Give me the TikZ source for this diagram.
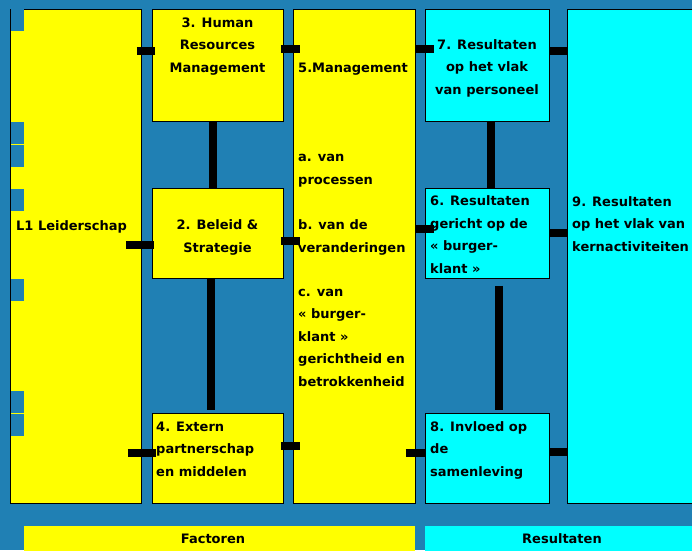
\documentclass[tikz,border=0pt]{standalone}
\usepackage{fontspec}
\setmainfont{DejaVu Sans}
\definecolor{modelblue}{RGB}{32,128,180}
\definecolor{factoryellow}{RGB}{255,255,0}
\definecolor{resultcyan}{RGB}{0,255,255}
\tikzset{
  area/.style={draw=black, line width=0.8pt, inner sep=0pt, anchor=north west},
  factorbox/.style={area, fill=factoryellow},
  resultbox/.style={area, fill=resultcyan},
  txt/.style={font=\fontsize{13}{22.5}\selectfont\bfseries, inner sep=0pt, align=left, anchor=base west},
  ctxt/.style={txt, align=center, anchor=base},
  bar/.style={line width=8pt, black},
}
\begin{document}
\begin{tikzpicture}[x=1pt, y=-1pt]
    \fill[modelblue] (0,0) rectangle (692,550);
    \useasboundingbox (0,0) rectangle (692,550);
    % factoren
    \node[factorbox, minimum width=131, minimum height=494] (l1) at (10,9) {};
    \node[factorbox, minimum width=131, minimum height=112] (hr) at (152,9) {};
    \node[factorbox, minimum width=131, minimum height=90] (bs) at (152,188) {};
    \node[factorbox, minimum width=131, minimum height=90] (ep) at (152,413) {};
    \node[factorbox, minimum width=122, minimum height=494] (mg) at (293,9) {};
    % resultaten
    \node[resultbox, minimum width=124, minimum height=112] (rp) at (425,9) {};
    \node[resultbox, minimum width=124, minimum height=90] (rb) at (425,188) {};
    \node[resultbox, minimum width=124, minimum height=90] (is) at (425,413) {};
    \node[resultbox, minimum width=140, minimum height=494] (rk) at (567,9) {};
    \foreach \y in {9,122,145,189,279,391,414}
        \fill[modelblue] (11,\y) rectangle (24,\y+22);
    % legende
    \node[area, draw=none, fill=factoryellow, minimum width=391, minimum height=30] (factoren) at (24,526) {};
    \node[area, draw=none, fill=resultcyan, minimum width=280, minimum height=30] (resultaten) at (425,526) {};
    \node[ctxt] (factorentxt) at (213,543) {Factoren};
    \node[ctxt] (resultatentxt) at (562,543) {Resultaten};
    % teksten (anker op de laatste regel)
    \node[txt] (l1txt) at (16,230) {L1 Leiderschap};
    \node[ctxt] (hrtxt) at (217.5,72) {3. Human\\Resources\\Management};
    \node[ctxt] (bstxt) at (217.5,252) {2. Beleid \&\\Strategie};
    \node[txt] (eptxt) at (156,476) {4. Extern\\partnerschap\\en middelen};
    \node[txt] (mgtxt) at (298,72) {5.Management};
    \node[txt] (mgatxt) at (298,184) {a. van\\processen};
    \node[txt] (mgbtxt) at (298,252) {b. van de\\veranderingen};
    \node[txt] (mgctxt) at (298,386) {c. van\\« burger-\\klant »\\gerichtheid en\\betrokkenheid};
    \node[ctxt] (rptxt) at (487,94) {7. Resultaten\\op het vlak\\van personeel};
    \node[txt] (rbtxt) at (430,273) {6. Resultaten\\gericht op de\\« burger-\\klant »};
    \node[txt] (istxt) at (430,476) {8. Invloed op\\de\\samenleving};
    \node[txt] (rktxt) at (572,251) {9. Resultaten\\op het vlak van\\kernactiviteiten};
    % verbindingen
    \draw[bar, shorten <=-5pt, shorten >=-3pt] (l1.east |- 0,51) -- (hr.west |- 0,51);
    \draw[bar, shorten <=-16pt, shorten >=-2pt] (l1.east |- 0,245) -- (bs.west |- 0,245);
    \draw[bar, shorten <=-14pt, shorten >=-4pt] (l1.east |- 0,453) -- (ep.west |- 0,453);
    \draw[bar, shorten <=-3pt, shorten >=-7pt] (hr.east |- 0,49) -- (mg.west |- 0,49);
    \draw[bar, shorten <=-3pt, shorten >=-7pt] (bs.east |- 0,241) -- (mg.west |- 0,241);
    \draw[bar, shorten <=-3pt, shorten >=-7pt] (ep.east |- 0,446) -- (mg.west |- 0,446);
    \draw[bar, shorten >=-9pt] (mg.east |- 0,49) -- (rp.west |- 0,49);
    \draw[bar, shorten >=-9pt] (mg.east |- 0,229) -- (rb.west |- 0,229);
    \draw[bar, shorten <=-10pt, shorten >=-1pt] (mg.east |- 0,453) -- (is.west |- 0,453);
    \draw[bar] (rp.east |- 0,51) -- (rk.west |- 0,51);
    \draw[bar] (rb.east |- 0,233) -- (rk.west |- 0,233);
    \draw[bar] (is.east |- 0,452) -- (rk.west |- 0,452);
    \draw[bar] (hr.south -| 213,0) -- (bs.north -| 213,0);
    \draw[bar, shorten >=3pt] (bs.south -| 211,0) -- (ep.north -| 211,0);
    \draw[bar] (rp.south -| 491,0) -- (rb.north -| 491,0);
    \draw[bar, shorten <=7pt, shorten >=3pt] (rb.south -| 499,0) -- (is.north -| 499,0);
\end{tikzpicture}
\end{document}
